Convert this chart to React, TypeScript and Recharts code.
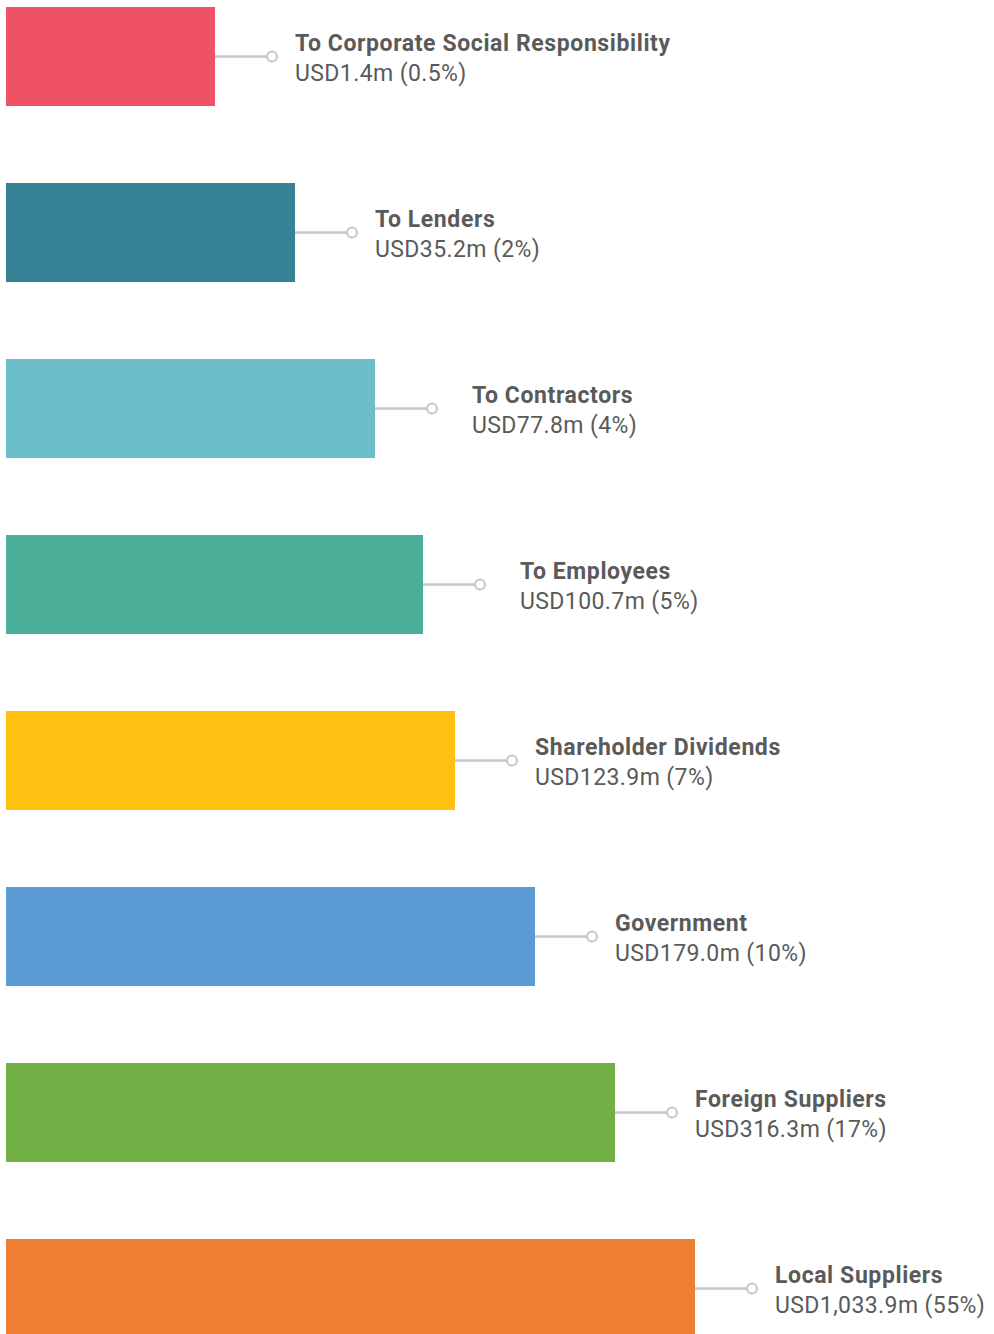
import { Bar, BarChart, Cell, LabelList, XAxis, YAxis } from "recharts";

const categories = [
  "To Corporate Social Responsibility",
  "To Lenders",
  "To Contractors",
  "To Employees",
  "Shareholder Dividends",
  "Government",
  "Foreign Suppliers",
  "Local Suppliers",
];
const amounts = ["USD1.4m", "USD35.2m", "USD77.8m", "USD100.7m", "USD123.9m", "USD179.0m", "USD316.3m", "USD1,033.9m"];
const shares = ["0.5%", "2%", "4%", "5%", "7%", "10%", "17%", "55%"];
// bar lengths as drawn in the infographic (not to scale with the amounts)
const barLength = [209, 289, 369, 417, 449, 529, 609, 689];
const colors = ["#ef5265", "#368396", "#6cbfca", "#4bae98", "#fec011", "#5b9bd4", "#72b046", "#ed7e32"];

const data = categories.map((name, i) => ({
  name,
  length: barLength[i],
  amount: amounts[i],
  share: shares[i],
}));

// a few labels sit a bit further out from their dot
const extraGap: Record<number, number> = { 2: 17, 3: 17 };

function Callout(props: any) {
  const { x, y, width, height, index } = props;
  const end = x + width;
  const cy = y + height / 2;
  const tx = end + 80 + (extraGap[index] ?? 0);
  return (
    <g>
      <line x1={end} y1={cy} x2={end + 52} y2={cy} stroke="#c3c7d1" strokeWidth={2.5} />
      <circle cx={end + 57} cy={cy} r={5} fill="#fff" stroke="#c3c7d1" strokeWidth={2} />
      <text x={tx} y={cy - 6} fill="#5a5a5a" fontSize={23} fontWeight={700} letterSpacing={0.6} fontFamily="Roboto, sans-serif">
        {data[index].name}
      </text>
      <text x={tx} y={cy + 24.5} fill="#5a5a5a" fontSize={23} letterSpacing={0.4} fontFamily="Roboto, sans-serif">
        {`${data[index].amount} (${data[index].share})`}
      </text>
    </g>
  );
}

export default function App() {
  return (
    <div style={{ position: "absolute", top: 0, left: 0, width: 994, height: 1334, overflow: "hidden", background: "#fff" }}>
      <div style={{ position: "absolute", top: -32, left: 0 }}>
        <BarChart
          width={994}
          height={1408}
          data={data}
          layout="vertical"
          margin={{ top: 0, right: 0, bottom: 0, left: 6 }}
        >
          <XAxis type="number" domain={[0, 988]} hide />
          <YAxis type="category" dataKey="name" hide />
          <Bar dataKey="length" barSize={99} isAnimationActive={false}>
            {data.map((d, i) => (
              <Cell key={d.name} fill={colors[i]} />
            ))}
            <LabelList dataKey="length" content={<Callout />} />
          </Bar>
        </BarChart>
      </div>
    </div>
  );
}
